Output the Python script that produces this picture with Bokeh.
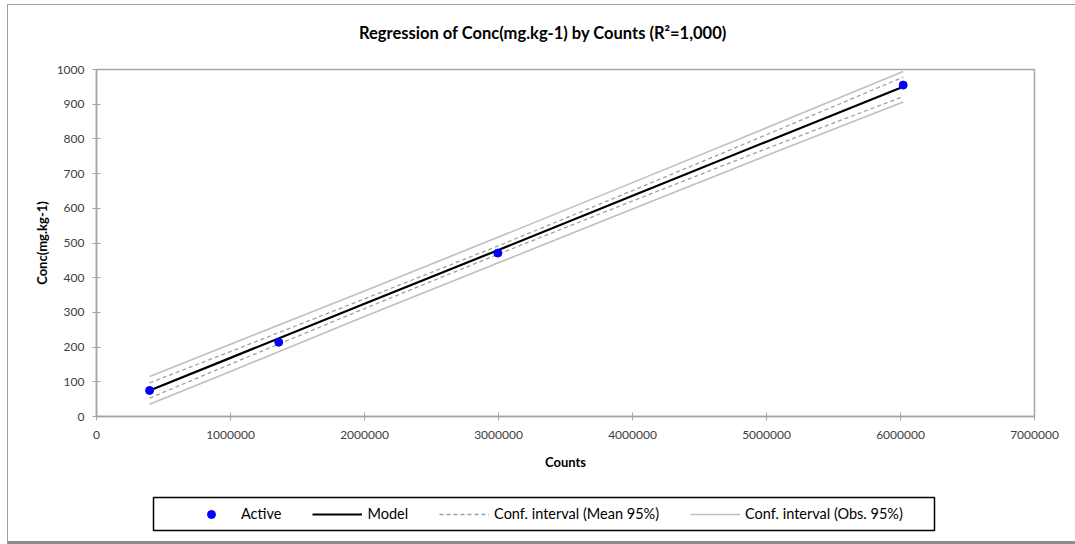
from bokeh.plotting import figure
from bokeh.models import Legend, LegendItem, Range1d, FixedTicker, Label, BoxAnnotation
from bokeh.layouts import column
from bokeh.embed import file_html
from bokeh.resources import INLINE

# ---- data ----
counts = [396000, 1360000, 2995000, 6020000]
conc = [75, 214, 471, 955]

band_x = [396000, 1000000, 2000000, 3000000, 4000000, 5000000, 6020000]
model_y = [75, 169, 325, 480, 636, 792, 950]
mean_lo = [53, 151, 311, 468, 621, 772, 922]
mean_hi = [97, 187, 339, 492, 651, 812, 978]
obs_lo = [35, 130, 288, 443, 598, 752, 906]
obs_hi = [115, 208, 362, 517, 674, 832, 994]

x_ticks = [0, 1000000, 2000000, 3000000, 4000000, 5000000, 6000000, 7000000]
y_ticks = [0, 100, 200, 300, 400, 500, 600, 700, 800, 900, 1000]

legend_labels = ["Active", "Model", "Conf. interval (Mean 95%)", "Conf. interval (Obs. 95%)"]
title_text = "Regression of Conc(mg.kg-1) by Counts (R\u00b2=1,000)"
FONT = "Lato"

# styles
PT = dict(size=8, fill_color="#0000ff", line_color="#0000ff")
MODEL = dict(line_color="#000000", line_width=2.2)
MEAN = dict(line_color="#a0a0a0", line_width=1.3, line_dash="4 3")
OBS = dict(line_color="#bfbfbf", line_width=1.6)

FRAME_W = 938  # pixel width of the aligned plot frames


def blank(height):
    f = figure(width=1068, height=height, output_backend="svg", toolbar_location=None,
               x_range=Range1d(0, FRAME_W), y_range=Range1d(0, height),
               x_axis_location=None, y_axis_location=None,
               min_border_left=0, min_border_right=0, min_border_top=0, min_border_bottom=0)
    f.outline_line_color = None
    f.xgrid.visible = False
    f.ygrid.visible = False
    return f


# ---- title strip ----
tf = blank(40)
tf.add_layout(Label(x=446.5, y=13, text=title_text, text_align="center",
                    text_baseline="middle", text_font=FONT, text_font_size="16.5px",
                    text_font_style="bold", text_color="#000000"))

# ---- main chart ----
p = figure(width=1068, height=435, output_backend="svg", toolbar_location=None,
           x_range=Range1d(0, 7000000), y_range=Range1d(0, 1000),
           min_border_left=88, min_border_right=42, min_border_top=24,
           min_border_bottom=64)

p.xgrid.visible = False
p.ygrid.visible = False
p.outline_line_color = "#a6a6a6"
p.outline_line_width = 1.5

for ax in (p.xaxis[0], p.yaxis[0]):
    ax.axis_line_color = "#a6a6a6"
    ax.axis_line_width = 1.5
    ax.major_tick_line_color = "#a6a6a6"
    ax.major_tick_in = 4
    ax.major_tick_out = 4
    ax.minor_tick_line_color = None
    ax.major_label_text_font = FONT
    ax.major_label_text_font_size = "12px"
    ax.major_label_text_color = "#404040"
    ax.axis_label_text_font = FONT
    ax.axis_label_text_font_size = "13px"
    ax.axis_label_text_font_style = "bold"
    ax.axis_label_text_color = "#000000"

p.xaxis.ticker = FixedTicker(ticks=x_ticks)
p.yaxis.ticker = FixedTicker(ticks=y_ticks)
p.xaxis.major_label_overrides = {t: str(t) for t in x_ticks}
p.xaxis.axis_label = "Counts"
p.yaxis.axis_label = "Conc(mg.kg-1)"
p.xaxis.major_label_standoff = 10
p.xaxis.axis_label_standoff = 12
p.yaxis.major_label_standoff = 8
p.yaxis.axis_label_standoff = 4

p.line(band_x, obs_lo, **OBS)
p.line(band_x, obs_hi, **OBS)
p.line(band_x, mean_lo, **MEAN)
p.line(band_x, mean_hi, **MEAN)
p.line(band_x, model_y, **MODEL)
p.scatter(counts, conc, **PT)

# ---- legend strip ----
lg = blank(61)
lg.add_layout(BoxAnnotation(left=57, right=838, bottom=11, top=44,
                            fill_color="#ffffff", fill_alpha=1,
                            line_color="#000000", line_alpha=1, line_width=1.5))
# same series drawn outside this strip's visible range, only for the legend glyphs
l_pt = lg.scatter(counts, conc, size=7, fill_color="#0000ff", line_color="#0000ff")
l_model = lg.line(band_x, model_y, **MODEL)
l_mean = lg.line(band_x, mean_lo, **MEAN)
l_obs = lg.line(band_x, obs_lo, **OBS)

legend = Legend(items=[
    LegendItem(label=legend_labels[0], renderers=[l_pt]),
    LegendItem(label=legend_labels[1], renderers=[l_model]),
    LegendItem(label=legend_labels[2], renderers=[l_mean]),
    LegendItem(label=legend_labels[3], renderers=[l_obs]),
], orientation="horizontal", location=(90, 17.5))
legend.label_text_font = FONT
legend.label_text_font_size = "14.5px"
legend.label_text_color = "#000000"
legend.border_line_color = None
legend.background_fill_alpha = 0
legend.glyph_width = 50
legend.label_standoff = 5
legend.spacing = 31
legend.padding = 6
legend.margin = 0
lg.add_layout(legend, "center")

layout = column(tf, p, lg, spacing=0)
layout.margin = (4, 0, 0, 7)
layout.styles = {"border-left": "1px solid #a0a0a0", "border-top": "1px solid #a0a0a0",
                 "border-bottom": "3px solid #8c8c8c"}

open("out.html", "w").write(file_html(layout, INLINE))
